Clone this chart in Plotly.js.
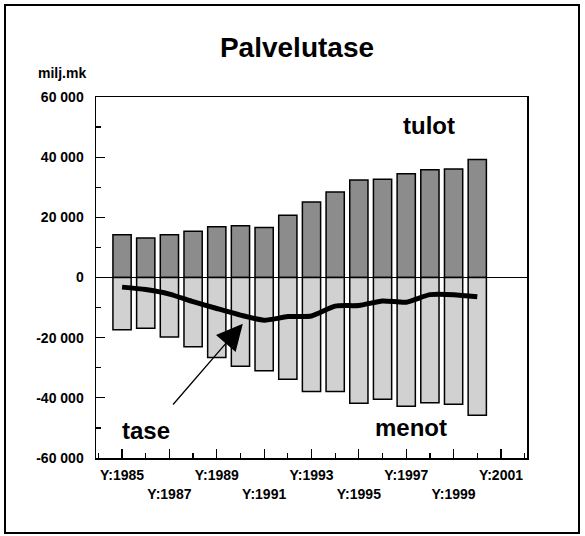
<!DOCTYPE html>
<html>
<head>
<meta charset="utf-8">
<script src="https://cdn.plot.ly/plotly-3.0.1.min.js"></script>
<style>
  html, body { margin: 0; padding: 0; background: #fff; }
  #wrap { position: relative; width: 585px; height: 536px; }
  #chart { position: absolute; left: 0; top: 0; width: 585px; height: 536px; }
  #frame { position: absolute; left: 4px; top: 4px; width: 576px; height: 530px;
           border: 2px solid #000; box-sizing: border-box; pointer-events: none; }
</style>
</head>
<body>
<div id="wrap">
  <div id="chart"></div>
  <div id="frame"></div>
</div>
<script>
// Data (milj. mk)
var years = [1985, 1986, 1987, 1988, 1989, 1990, 1991, 1992, 1993, 1994, 1995, 1996, 1997, 1998, 1999, 2000];
var tulot = [14200, 13100, 14200, 15400, 16900, 17200, 16600, 20700, 25100, 28400, 32400, 32700, 34500, 35800, 36100, 39200];
var menot = [-17400, -16900, -19800, -23000, -26600, -29500, -31000, -33800, -37900, -37900, -41800, -40500, -42800, -41600, -42100, -45800];
var tase = [-3200, -4000, -5500, -8000, -10300, -12500, -14200, -13000, -12800, -9500, -9300, -7800, -8200, -5700, -5700, -6400];

var xTickVals = [1985, 1987, 1989, 1991, 1993, 1995, 1997, 1999, 2001];
var xTickText = ['Y:1985', ' <br>Y:1987', 'Y:1989', ' <br>Y:1991', 'Y:1993', ' <br>Y:1995', 'Y:1997', ' <br>Y:1999', 'Y:2001'];
var yTickVals = [-60000, -40000, -20000, 0, 20000, 40000, 60000];
var yTickText = ['-60 000', '-40 000', '-20 000', '0', '20 000', '40 000', '60 000'];

var FONT = 'Arial, "Liberation Sans", sans-serif';

var traces = [
  {
    type: 'bar', x: years, y: tulot, name: 'tulot', width: 0.77,
    marker: { color: '#8c8c8c', line: { color: '#000', width: 1.5 } },
    hoverinfo: 'skip'
  },
  {
    type: 'bar', x: years, y: menot, name: 'menot', width: 0.77,
    marker: {
      color: '#e6e6e6',
      line: { color: '#000', width: 1.5 },
      pattern: { shape: '.', fgcolor: '#a8a8a8', bgcolor: '#f2f2f2', size: 2, solidity: 0.5 }
    },
    hoverinfo: 'skip'
  },
  {
    type: 'scatter', mode: 'lines', x: years, y: tase, name: 'tase',
    line: { color: '#000', width: 5, shape: 'spline', smoothing: 0.6 },
    hoverinfo: 'skip'
  }
];

var layout = {
  width: 585, height: 536,
  margin: { l: 96, r: 58, t: 97, b: 78, pad: 0 },
  paper_bgcolor: '#fff', plot_bgcolor: '#fff',
  showlegend: false,
  barmode: 'relative',
  font: { family: FONT, color: '#000' },
  title: {
    text: 'Palvelutase',
    font: { family: FONT, size: 28, weight: 'bold', color: '#000' },
    x: 297 / 585, xref: 'container', xanchor: 'center',
    y: 1 - 47 / 536, yref: 'container', yanchor: 'middle'
  },
  xaxis: {
    range: [1983.9, 2002.1],
    tickmode: 'array', tickvals: xTickVals, ticktext: xTickText,
    ticks: 'inside', ticklen: 9, tickwidth: 1.2, tickcolor: '#000',
    minor: { dtick: 1, tick0: 1985, ticks: 'inside', ticklen: 5, tickwidth: 1.2, tickcolor: '#000', showgrid: false },
    showgrid: false, zeroline: false,
    showline: true, mirror: true, linecolor: '#000', linewidth: 1.5,
    tickangle: 0,
    tickfont: { family: FONT, size: 14, weight: 'bold', color: '#000' },
    ticklabelstandoff: 4,
    fixedrange: true
  },
  yaxis: {
    range: [-60000, 60000],
    tickmode: 'array', tickvals: yTickVals, ticktext: yTickText,
    ticks: 'inside', ticklen: 9, tickwidth: 1.2, tickcolor: '#000',
    minor: { dtick: 10000, tick0: 0, ticks: 'inside', ticklen: 5, tickwidth: 1.2, tickcolor: '#000', showgrid: false },
    showgrid: false,
    zeroline: true, zerolinecolor: '#000', zerolinewidth: 1,
    showline: true, mirror: true, linecolor: '#000', linewidth: 1.5,
    tickfont: { family: FONT, size: 14, weight: 'bold', color: '#000' },
    ticklabelstandoff: 8,
    fixedrange: true
  },
  annotations: [
    { text: 'milj.mk', xref: 'paper', yref: 'paper', x: (62 - 96) / 431, y: (458 - 73) / 361,
      xanchor: 'center', yanchor: 'middle', showarrow: false,
      font: { family: FONT, size: 14, weight: 'bold', color: '#000' } },
    { text: 'tulot', xref: 'x', yref: 'y', x: 1997.96, y: 50600, xanchor: 'center', yanchor: 'middle',
      showarrow: false, font: { family: FONT, size: 24, weight: 'bold', color: '#000' } },
    { text: 'menot', xref: 'x', yref: 'y', x: 1997.2, y: -50000, xanchor: 'center', yanchor: 'middle',
      showarrow: false, font: { family: FONT, size: 24, weight: 'bold', color: '#000' } },
    { text: 'tase', xref: 'x', yref: 'y', x: 1986.0, y: -50700, xanchor: 'center', yanchor: 'middle',
      showarrow: false, font: { family: FONT, size: 24, weight: 'bold', color: '#000' } },
    { text: '', xref: 'x', yref: 'y', x: 1990.1, y: -15400,
      axref: 'x', ayref: 'y', ax: 1987.1, ay: -42700,
      showarrow: true, arrowhead: 2, arrowsize: 4, arrowwidth: 1.3, arrowcolor: '#000', standoff: 0 }
  ]
};

Plotly.newPlot('chart', traces, layout, { staticPlot: true, displayModeBar: false });
</script>
</body>
</html>
